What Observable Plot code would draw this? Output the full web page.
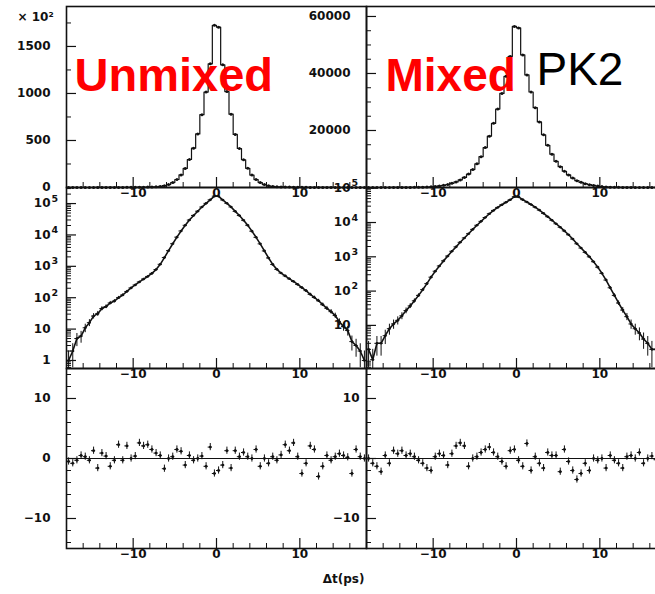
<!DOCTYPE html>
<html><head><meta charset="utf-8">
<script src="https://cdn.jsdelivr.net/npm/d3@7"></script>
<script src="https://cdn.jsdelivr.net/npm/@observablehq/plot@0.6"></script>
<style>
body{margin:0;background:#fff;}
#wrap{position:relative;width:655px;height:594px;overflow:hidden;background:#fff;}
#wrap svg{position:absolute;overflow:visible;}
</style></head><body><div id="wrap"></div>
<script>
// ---------- data ----------
const binCenters = [-17.75,-17.25,-16.75,-16.25,-15.75,-15.25,-14.75,-14.25,-13.75,-13.25,-12.75,-12.25,-11.75,-11.25,-10.75,-10.25,-9.75,-9.25,-8.75,-8.25,-7.75,-7.25,-6.75,-6.25,-5.75,-5.25,-4.75,-4.25,-3.75,-3.25,-2.75,-2.25,-1.75,-1.25,-0.75,-0.25,0.25,0.75,1.25,1.75,2.25,2.75,3.25,3.75,4.25,4.75,5.25,5.75,6.25,6.75,7.25,7.75,8.25,8.75,9.25,9.75,10.25,10.75,11.25,11.75,12.25,12.75,13.25,13.75,14.25,14.75,15.25,15.75,16.25,16.75,17.25,17.75];
const unmixedCounts = [1,2,5,6,11,16,26,31,45,52,68,78,100,122,158,205,255,318,392,475,595,790,1160,1900,3150,5250,8500,13400,20300,29800,41800,57000,77500,101500,131500,172500,
  170500,130500,102000,78000,56500,41500,29500,20400,13200,8400,5200,3100,1850,1150,800,610,495,400,330,265,210,168,128,102,80,60,46,36,27,17,12,9,4,3,2,1];
const mixedCounts = [2,1,3,3,5,8,11,14,19,27,37,52,75,110,165,255,380,540,760,1050,1450,1950,2650,3550,4700,6300,8300,10800,14000,18000,22500,27500,33000,39000,46000,56500,
  56000,46500,39500,33500,28000,23000,18500,14800,11700,9200,7300,5700,4400,3300,2400,1800,1350,1000,720,500,330,210,125,75,45,28,18,11,8,6,4,3,2,2,1,1];
const unmixedResiduals = [-0.5,-0.8,-0.3,0.5,0.3,-0.3,1.3,-1.6,0.9,0.4,-1.3,-0.3,2.3,-0.3,2.1,0.0,0.4,2.6,2.1,2.3,1.5,0.9,0.5,-1.7,0.0,0.3,1.5,1.2,-1.1,0.5,-0.3,0.0,0.4,-1.3,1.9,-2.5,-2.0,-1.1,1.3,-1.6,1.3,0.3,1.0,0.3,0.0,1.5,-1.3,0.0,-0.8,0.3,-0.3,0.6,2.3,1.3,2.6,0.3,-2.5,-0.8,2.1,1.5,-3.0,-1.3,0.5,-0.3,0.3,0.8,0.5,0.2,-2.5,1.5,0.3,0.0];
const mixedResiduals = [0,-0.8,-1.3,-2.2,0.5,-0.8,1.3,0.8,1.3,0.5,0.8,0.3,-0.3,-0.8,-1.6,-2.0,0.3,0.8,0.5,-1.1,0.8,2.1,2.6,2.1,-1.3,0,0.3,1.0,1.5,1.9,1.0,0.3,-0.5,-1.3,1.3,1.5,-0.3,-1.3,2.5,-2.0,0.3,-0.8,-1.6,1.0,0.5,0.5,-2.2,1.5,-0.5,-2.0,-3.5,-2.5,-0.8,-2.0,0,-0.3,0,-1.6,0.5,-0.3,-0.8,-1.6,0.3,0.5,0,1.0,-0.8,0,0.4,-0.2,0.6,-0.4];

const xMajorTicks = [-10, 0, 10];
const xMajorLabels = ["−10", "0", "10"];
const xMinorTicks = [-16,-14,-12,-8,-6,-4,-2,2,4,6,8,12,14,16];

const unmixedLinTicks = [0, 50000, 100000, 150000];
const unmixedLinLabels = ["0", "500", "1000", "1500"];
const unmixedLinMinor = [25000, 75000, 125000, 175000];
const mixedLinTicks = [20000, 40000, 60000];
const mixedLinLabels = ["20000", "40000", "60000"];
const mixedLinMinor = [5000,10000,15000,25000,30000,35000,45000,50000,55000];

const logDecades = [1, 10, 100, 1000, 10000, 100000];
const logBase = ["1", "10", "10", "10", "10", "10"];
const logExp = ["", "", "2", "3", "4", "5"];
const logMinorDecades = [0.1, 1, 10, 100, 1000, 10000, 100000];
const logMinorFactors = [2, 3, 4, 5, 6, 7, 8, 9];

const resTicksLeft = [-10, 0, 10];
const resLabelsLeft = ["−10", "0", "10"];
const resTicksRight = [-10, 10];
const resLabelsRight = ["−10", "10"];
const resMajor = [-10, 0, 10];
const resMinor = [-14,-12,-8,-6,-4,-2,2,4,6,8,12,14];

// ---------- layout ----------
const wrap = document.getElementById("wrap");
const FW = 300, ML = 62, MR = 14, MT = 14, MB = 30;
const FONT = "DejaVu Sans, sans-serif";
const ink = "#111";
const LFS = 12, LFW = "bold";

const unmixed = binCenters.map((x, i) => ({x, n: unmixedCounts[i]}));
const mixed = binCenters.map((x, i) => ({x, n: mixedCounts[i]}));
const resU = binCenters.map((x, i) => ({x, r: unmixedResiduals[i]}));
const resM = binCenters.map((x, i) => ({x, r: mixedResiduals[i]}));

function panel(left, top, h, yOpts, marks) {
  const svg = Plot.plot({
    width: ML + FW + MR, height: MT + h + MB,
    marginLeft: ML, marginRight: MR, marginTop: MT, marginBottom: MB,
    style: {background: "transparent", fontFamily: FONT, fontSize: "12px", color: ink},
    x: {domain: [-18, 18], axis: null},
    y: {...yOpts, axis: null},
    marks
  });
  svg.style.position = "absolute";
  svg.style.overflow = "visible";
  svg.style.left = (left - ML) + "px";
  svg.style.top = (top - MT) + "px";
  wrap.appendChild(svg);
}

function xAxis(h) {
  return [
    Plot.ruleX(xMinorTicks, {x: d => d, insetTop: h - 5, stroke: ink, strokeWidth: 1}),
    Plot.ruleX(xMajorTicks, {x: d => d, insetTop: h - 10, stroke: ink, strokeWidth: 1.2}),
    Plot.text(xMajorTicks, {x: d => d, text: (d, i) => xMajorLabels[i], frameAnchor: "bottom", dy: 9, fill: ink, fontSize: LFS, fontWeight: LFW})
  ];
}
function yTicks(major, minor) {
  return [
    Plot.ruleY(minor, {y: d => d, insetRight: FW - 5, stroke: ink}),
    Plot.ruleY(major, {y: d => d, insetRight: FW - 10, stroke: ink, strokeWidth: 1.2})
  ];
}
function yLabels(vals, labels, dx = -16) {
  return Plot.text(vals, {y: d => d, text: (d, i) => labels[i], frameAnchor: "left", textAnchor: "end", dx, fill: ink, fontSize: LFS, fontWeight: LFW});
}
function logAxis(domain, startIdx) {
  const minor = [];
  logMinorDecades.forEach(d => logMinorFactors.forEach(f => { const v = d * f; if (v > domain[0] && v < domain[1]) minor.push(v); }));
  const dec = logDecades.slice(startIdx), base = logBase.slice(startIdx), ex = logExp.slice(startIdx);
  return [
    ...yTicks(dec, minor),
    yLabels(dec, base),
    Plot.text(dec, {y: d => d, text: (d, i) => ex[i], frameAnchor: "left", textAnchor: "start", dx: -15, dy: -5, fill: ink, fontSize: 9.5, fontWeight: LFW})
  ];
}
function linData(data) {
  return [
    Plot.line(data, {x: "x", y: "n", curve: "step", stroke: ink, strokeWidth: 1.2}),
    Plot.dot(data, {x: "x", y: "n", r: 1.5, fill: ink, stroke: "none"})
  ];
}
function logData(data) {
  return [
    Plot.ruleX(data, {x: "x", y1: d => Math.max(d.n - Math.sqrt(d.n), 0.3), y2: d => d.n + Math.sqrt(d.n), stroke: ink, strokeWidth: 1, clip: true}),
    Plot.ruleY(data, {y: "n", x1: d => d.x - 0.25, x2: d => d.x + 0.25, stroke: ink, strokeWidth: 1, clip: true}),
    Plot.line(data, {x: "x", y: "n", stroke: ink, strokeWidth: 1.6, clip: true}),
    Plot.dot(data, {x: "x", y: "n", r: 1.3, fill: ink, stroke: "none", clip: true})
  ];
}
function resData(data) {
  return [
    Plot.ruleY([0], {stroke: ink, strokeWidth: 1.2}),
    Plot.ruleX(data, {x: "x", y1: d => d.r - 0.6, y2: d => d.r + 0.6, stroke: ink, strokeWidth: 1}),
    Plot.ruleY(data, {y: "r", x1: d => d.x - 0.25, x2: d => d.x + 0.25, stroke: ink, strokeWidth: 1}),
    Plot.dot(data, {x: "x", y: "r", r: 1.4, fill: ink, stroke: "none"})
  ];
}
const frame = Plot.frame({stroke: ink, strokeWidth: 1.6});

const colX = [66, 366];
const rowY = [6, 187, 368];
const rowH = [181, 181, 180];

// Row 1: linear
panel(colX[0], rowY[0], rowH[0], {domain: [0, 192500]}, [
  ...linData(unmixed), ...yTicks(unmixedLinTicks, unmixedLinMinor), yLabels(unmixedLinTicks, unmixedLinLabels),
  ...xAxis(rowH[0]), frame,
  Plot.text(["× 10²"], {text: d => d, frameAnchor: "top-left", dx: -49, dy: 14, lineAnchor: "bottom", textAnchor: "start", fill: ink, fontSize: 12, fontWeight: LFW}),
  Plot.text(["Unmixed"], {text: d => d, frameAnchor: "top-left", dx: 8, dy: 84, lineAnchor: "bottom", textAnchor: "start", fill: "#ff0000", fontSize: 47, fontWeight: "bold", fontFamily: "Liberation Sans, Arial, sans-serif"})
]);
panel(colX[1], rowY[0], rowH[0], {domain: [0, 63500]}, [
  ...linData(mixed), ...yTicks(mixedLinTicks, mixedLinMinor), yLabels(mixedLinTicks, mixedLinLabels),
  ...xAxis(rowH[0]), frame,
  Plot.text(["Mixed"], {text: d => d, frameAnchor: "top-left", dx: 19, dy: 84, lineAnchor: "bottom", textAnchor: "start", fill: "#ff0000", fontSize: 46, fontWeight: "bold", fontFamily: "Liberation Sans, Arial, sans-serif"}),
  Plot.text(["PK2"], {text: d => d, frameAnchor: "top-left", dx: 170, dy: 78, lineAnchor: "bottom", textAnchor: "start", fill: "#000", fontSize: 46, fontFamily: "Liberation Sans, Arial, sans-serif"})
]);

// Row 2: log
const logDomL = [0.555, 325000], logDomR = [0.553, 105000];
panel(colX[0], rowY[1], rowH[1], {type: "log", domain: logDomL}, [
  ...logData(unmixed), ...logAxis(logDomL, 0), ...xAxis(rowH[1]), frame
]);
panel(colX[1], rowY[1], rowH[1], {type: "log", domain: logDomR}, [
  ...logData(mixed), ...logAxis(logDomR, 1), ...xAxis(rowH[1]), frame
]);

// Row 3: residuals
panel(colX[0], rowY[2], rowH[2], {domain: [-15, 15]}, [
  ...resData(resU), ...yTicks(resMajor, resMinor), yLabels(resTicksLeft, resLabelsLeft),
  ...xAxis(rowH[2]), frame,
  Plot.text(["Δt(ps)"], {text: d => d, frameAnchor: "bottom-right", dx: -2, dy: 34, lineAnchor: "bottom", textAnchor: "end", fill: ink, fontSize: 12, fontWeight: LFW})
]);
panel(colX[1], rowY[2], rowH[2], {domain: [-15, 15]}, [
  ...resData(resM), ...yTicks(resMajor, resMinor), yLabels(resTicksRight, resLabelsRight, -7),
  ...xAxis(rowH[2]), frame
]);
</script></body></html>
